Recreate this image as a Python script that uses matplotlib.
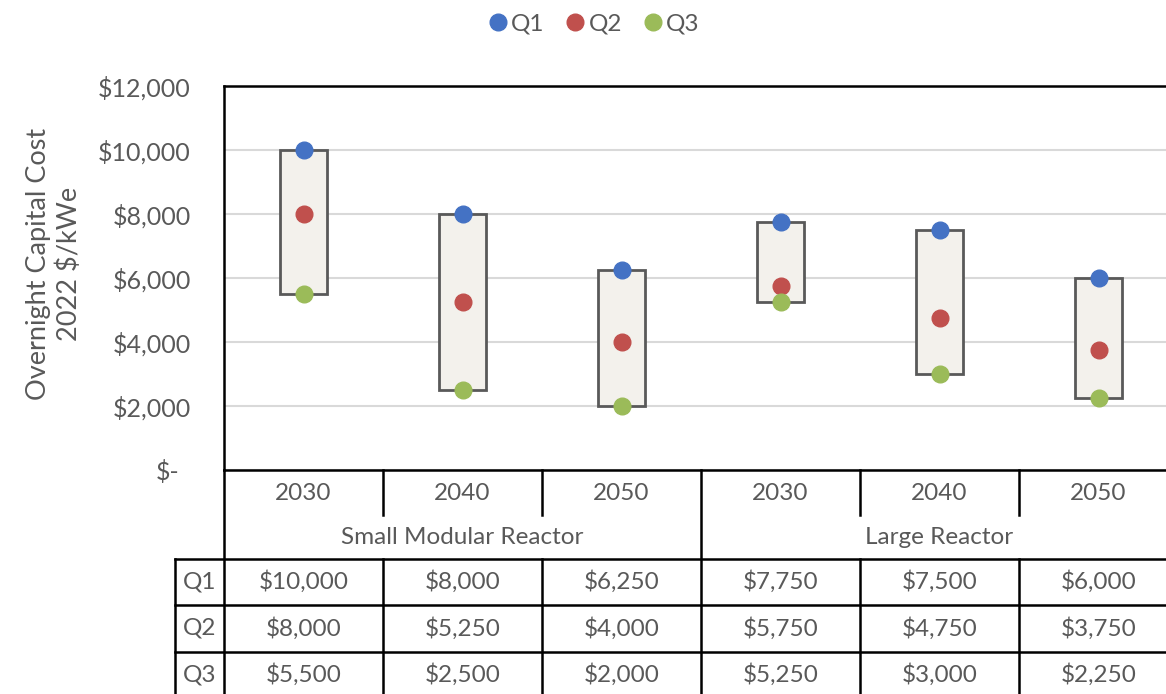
import matplotlib.pyplot as plt
from matplotlib.lines import Line2D
from matplotlib.transforms import blended_transform_factory

# data
years = ["2030", "2040", "2050", "2030", "2040", "2050"]
groups = ["Small Modular Reactor", "Large Reactor"]
q1 = [10000, 8000, 6250, 7750, 7500, 6000]
q2 = [8000, 5250, 4000, 5750, 4750, 3750]
q3 = [5500, 2500, 2000, 5250, 3000, 2250]
row_names = ["Q1", "Q2", "Q3"]
colors = ["#4472C4", "#C0504D", "#9BBB59"]

grey = "#595959"
fs = 17.5
plt.rcParams["font.family"] = ["Lato", "DejaVu Sans"]

W, H = 1166, 694
fig = plt.figure(figsize=(W / 100, H / 100), dpi=100)
# plot area in pixels: left 224, right 1178 (cropped), top 86, bottom 470
ax = fig.add_axes([224 / W, (H - 470) / H, 954 / W, 384 / H])

x = list(range(len(years)))
ax.bar(x, [a - b for a, b in zip(q1, q3)], bottom=q3, width=0.3,
       color="#F3F1EC", edgecolor=grey, linewidth=2, zorder=2)
for vals, c, name in zip([q1, q2, q3], colors, row_names):
    ax.plot(x, vals, "o", color=c, markersize=12, zorder=3, label=name)

ax.set_xlim(-0.5, 5.5)
ax.set_ylim(0, 12000)
ax.set_yticks(range(0, 12001, 2000))
ax.set_yticklabels(["$-"] + ["${:,}".format(v) for v in range(2000, 12001, 2000)])
ax.tick_params(axis="y", length=0, labelsize=fs + 0.5, labelcolor=grey, pad=24)
ax.set_xticks([])
for lab in ax.get_yticklabels()[:1]:
    lab.set_x(-0.012)
ax.grid(axis="y", color="#D9D9D9", linewidth=1.5, zorder=0)
ax.set_axisbelow(True)
for s in ["left", "top", "bottom"]:
    ax.spines[s].set_color("black")
    ax.spines[s].set_linewidth(1.8)
ax.spines["right"].set_visible(False)
ax.set_ylabel("Overnight Capital Cost\n2022 $/kWe", fontsize=19.5, color=grey,
              linespacing=1.25)
ax.yaxis.set_label_coords(-0.149, 0.536)

# data table under the axis
tr = blended_transform_factory(ax.transData, fig.transFigure)
def fy(p):
    return 1 - p / H

lw = 1.8
kw = dict(color="black", linewidth=lw, transform=tr, clip_on=False)
hx = -0.5 - 49 / 159
y_year, y_grp, y_rows = 515, 559, [559, 605, 652, 698]

for xb in [0.5, 1.5, 3.5, 4.5]:
    fig.add_artist(Line2D([xb, xb], [fy(470), fy(y_year)], **kw))
    fig.add_artist(Line2D([xb, xb], [fy(y_grp), fy(y_rows[-1])], **kw))
for xb in [-0.5, 2.5]:
    fig.add_artist(Line2D([xb, xb], [fy(470), fy(y_rows[-1])], **kw))
fig.add_artist(Line2D([hx, hx], [fy(y_grp), fy(y_rows[-1])], **kw))
for yp in y_rows[:3]:
    fig.add_artist(Line2D([hx, 5.5], [fy(yp), fy(yp)], **kw))

tk = dict(transform=tr, ha="center", va="center", fontsize=fs, color=grey)
for i, yr in enumerate(years):
    fig.text(i, fy(493), yr, **tk)
for g, name in enumerate(groups):
    fig.text(1 + 3 * g, fy(537), name, **tk)
for r, vals in enumerate([q1, q2, q3]):
    yc = fy((y_rows[r] + y_rows[r + 1]) / 2)
    fig.text((hx - 0.5) / 2, yc, row_names[r], **tk)
    for i, v in enumerate(vals):
        fig.text(i, yc, "${:,}".format(v), **tk)

fig.legend(loc="center", bbox_to_anchor=(592 / W, 1 - 24 / H), ncol=3,
           frameon=False, fontsize=fs, labelcolor=grey, handletextpad=0.0,
           columnspacing=0.7, handlelength=1.1, markerscale=1.0)

fig.savefig("out.png", dpi=100)
